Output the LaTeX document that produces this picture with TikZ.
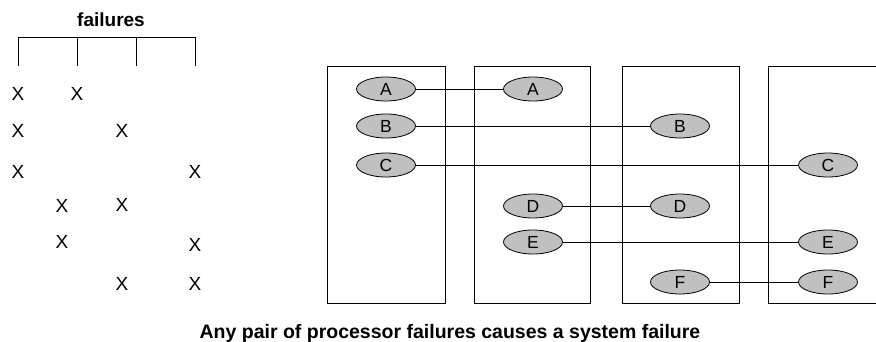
\documentclass[tikz,border=0pt]{standalone}
\usepackage{fontspec}
\setmainfont{Liberation Sans}
\usetikzlibrary{shapes.geometric}
\begin{document}
\begin{tikzpicture}[x=1pt,y=-1pt,
  proc/.style={ellipse,draw=black,line width=0.8pt,fill={rgb,255:red,192;green,192;blue,192},minimum width=59pt,minimum height=24pt,inner sep=0pt,font=\fontsize{17.5}{19}\selectfont},
  xmark/.style={inner sep=0pt,font=\fontsize{19}{21}\selectfont},
  frame/.style={draw=black,line width=0.8pt},
  link/.style={draw=black,line width=0.8pt}]
\useasboundingbox (0,0) rectangle (876,341);
% left: failures table
\node[font=\bfseries\fontsize{19}{21}\selectfont,anchor=base] (title) at (111,26) {failures};
\coordinate (b0) at (18,37);
\coordinate (b1) at (77,37);
\coordinate (b2) at (136,37);
\coordinate (b3) at (195,37);
\coordinate (e0) at (18,66);
\coordinate (e1) at (77,66);
\coordinate (e2) at (136,66);
\coordinate (e3) at (195,66);
\draw[frame] (b0) -- (b3);
\draw[frame] (b0) -- (e0);
\draw[frame] (b1) -- (e1);
\draw[frame] (b2) -- (e2);
\draw[frame] (b3) -- (e3);
\node[xmark] (r1a) at (18,94) {X};
\node[xmark] (r1b) at (77,94) {X};
\node[xmark] (r2a) at (18,131) {X};
\node[xmark] (r2b) at (122,131) {X};
\node[xmark] (r3a) at (18,172) {X};
\node[xmark] (r3b) at (195,172) {X};
\node[xmark] (r4a) at (62,206) {X};
\node[xmark] (r4b) at (122,205) {X};
\node[xmark] (r5a) at (62,242) {X};
\node[xmark] (r5b) at (195,245) {X};
\node[xmark] (r6a) at (122,284) {X};
\node[xmark] (r6b) at (195,284) {X};
% processor frames
\draw[frame] (327,66) rectangle (445,303);
\draw[frame] (474,66) rectangle (590,303);
\draw[frame] (622,66) rectangle (739,303);
\coordinate (p4a) at (876,66);
\coordinate (p4b) at (768,66);
\coordinate (p4c) at (768,303);
\coordinate (p4d) at (876,303);
\draw[frame] (p4a) -- (p4b) -- (p4c) -- (p4d);
% processes
\node[proc] (A1) at (386,89) {A};
\node[proc] (B1) at (386,126) {B};
\node[proc] (C1) at (386,165) {C};
\node[proc] (A2) at (533,89) {A};
\node[proc] (D2) at (533,206) {D};
\node[proc] (E2) at (533,242) {E};
\node[proc] (B3) at (680,126) {B};
\node[proc] (D3) at (680,206) {D};
\node[proc] (F3) at (680,282) {F};
\node[proc] (C4) at (828,165) {C};
\node[proc] (E4) at (828,242) {E};
\node[proc] (F4) at (828,282) {F};
\draw[link] (A1) -- (A2);
\draw[link] (B1) -- (B3);
\draw[link] (C1) -- (C4);
\draw[link] (D2) -- (D3);
\draw[link] (E2) -- (E4);
\draw[link] (F3) -- (F4);
\node[font=\bfseries\fontsize{19.5}{22}\selectfont,anchor=base] (caption) at (450,338) {Any pair of processor failures causes a system failure};
\end{tikzpicture}
\end{document}
